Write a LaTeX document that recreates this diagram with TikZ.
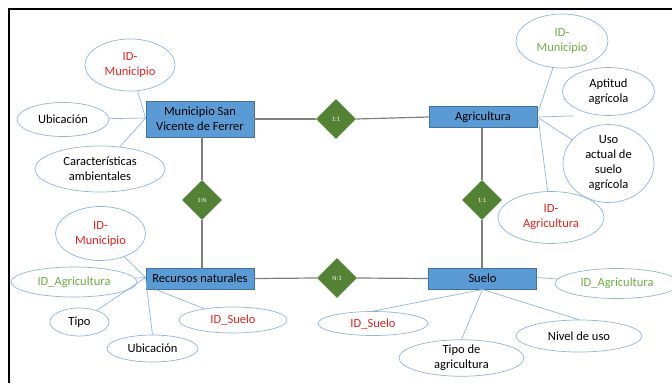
\documentclass[tikz,border=0pt]{standalone}
\usepackage{fontspec}
\setmainfont{Carlito}
\usetikzlibrary{shapes.geometric,calc}
\definecolor{entfill}{HTML}{5B9BD5}
\definecolor{entdraw}{HTML}{41719C}
\definecolor{relfill}{HTML}{548235}
\definecolor{attdraw}{HTML}{8FB4DE}
\definecolor{conn}{HTML}{7F7F7F}
\definecolor{keyred}{HTML}{E8201E}
\definecolor{fkgreen}{HTML}{70AD47}
\tikzset{
  entity/.style={draw=entdraw,fill=entfill,line width=0.9pt,rectangle,minimum width=108pt,minimum height=21pt,inner sep=0pt,align=center,font=\fontsize{12.5}{15}\selectfont},
  rel/.style={diamond,fill=relfill,draw=none,minimum width=40pt,minimum height=40pt,inner sep=0pt,text=white!90!relfill,font=\fontsize{6.5}{7}\selectfont},
  attr/.style={ellipse,draw=attdraw,line width=0.7pt,inner sep=0pt,align=center,font=\fontsize{12.5}{15}\selectfont},
  conline/.style={draw=conn,line width=1.2pt},
  attline/.style={draw=attdraw,line width=0.7pt},
}
\begin{document}
\begin{tikzpicture}[x=1pt,y=-1pt]
\useasboundingbox (0,0) rectangle (672,383);
% frame
\draw[line width=2.6pt] (9,383) -- (9,9) -- (672,9);
% entities
\node[entity,minimum height=36pt] (mun) at (200,119) {Municipio San\\Vicente de Ferrer};
\node[entity] (agr) at (483,117) {Agricultura};
\node[entity] (rec) at (200,278.5) {Recursos naturales};
\node[entity] (sue) at (482.5,278.5) {Suelo};
% relationships
\node[rel] (r1) at (336,119) {1:1};
\node[rel] (r2) at (202,200) {1:N};
\node[rel] (r3) at (482,200) {1:1};
\node[rel] (r4) at (337,278) {N:1};
% connectors
\draw[conline] (mun.east) -- (r1.west);
\draw[conline] (r1.east) -- (agr.west);
\draw[conline] (mun.south -| r2) -- (r2.north);
\draw[conline] (r2.south) -- (rec.north -| r2);
\draw[conline] (agr.south -| r3) -- (r3.north);
\draw[conline] (r3.south) -- (sue.north -| r3);
\draw[conline] (rec.east) -- (r4.west);
\draw[conline] (r4.east) -- (sue.west);
% attributes of Municipio
\node[attr,minimum width=90pt,minimum height=52pt,text=keyred] (m1) at (130,65) {ID-\\Municipio};
\node[attr,minimum width=92pt,minimum height=34pt] (m2) at (63,119.5) {Ubicación};
\node[attr,minimum width=130pt,minimum height=46pt] (m3) at (100,169) {Características\\ambientales};
\coordinate (mw) at ($(mun.west)+(0,-1)$);
\draw[attline] (m1) -- (mw);
\draw[attline] (m2) -- (mw);
\draw[attline] (m3) -- (mw);
% attributes of Agricultura
\node[attr,minimum width=92pt,minimum height=54pt,text=fkgreen] (a1) at (562,41) {ID-\\Municipio};
\node[attr,minimum width=92pt,minimum height=48pt] (a2) at (608.5,91.5) {Aptitud\\agrícola};
\node[attr,minimum width=91pt,minimum height=66pt] (a3) at (608.5,163.5) {Uso\\actual de\\suelo\\agrícola};
\node[attr,minimum width=106pt,minimum height=52pt,text=keyred] (a4) at (551,217.5) {ID-\\Agricultura};
\draw[attline] ($(agr.east)+(1,-6)$) -- (a1);
\draw[attline] ($(agr.east)+(1,0)$) -- ($(a2.south)+(-34,0)$);
\draw[attline] ($(agr.east)+(1,1)$) -- (a3);
\draw[attline] ($(agr.east)+(1,3)$) -- (a4);
% attributes of Recursos naturales
\node[attr,minimum width=90pt,minimum height=54pt,text=keyred] (n1) at (100.5,233.5) {ID-\\Municipio};
\node[attr,minimum width=126pt,minimum height=30pt,text=fkgreen] (n2) at (74,282) {ID\_Agricultura};
\node[attr,minimum width=59pt,minimum height=28pt] (n3) at (79.5,322) {Tipo};
\node[attr,minimum width=91pt,minimum height=27pt] (n4) at (152.5,348.5) {Ubicación};
\node[attr,minimum width=108pt,minimum height=26pt,text=keyred] (n5) at (233,320) {ID\_Suelo};
\coordinate (rw) at ($(rec.west)+(0,-1)$);
\draw[attline] (n1) -- (rw);
\draw[attline] (n2) -- (rw);
\draw[attline] (n3) -- (rw);
\draw[attline] (n4.north) -- (rw);
\draw[attline] ($(rec.south west)+(10,0)$) -- (n5);
% attributes of Suelo
\node[attr,minimum width=124pt,minimum height=30pt,text=fkgreen] (s1) at (617,283.5) {ID\_Agricultura};
\node[attr,minimum width=110pt,minimum height=24pt,text=keyred] (s2) at (373,323.5) {ID\_Suelo};
\node[attr,minimum width=125pt,minimum height=31pt] (s3) at (461.5,358) {Tipo de\\agricultura};
\node[attr,minimum width=126pt,minimum height=32pt] (s4) at (579,336) {Nivel de uso};
\draw[attline] ($(sue.east)+(0,-1)$) -- (s1);
\draw[attline] (sue.south) -- (s2.north);
\draw[attline] (sue.south) -- (s3.north);
\draw[attline] (sue.south) -- (s4.north);
\end{tikzpicture}
\end{document}
